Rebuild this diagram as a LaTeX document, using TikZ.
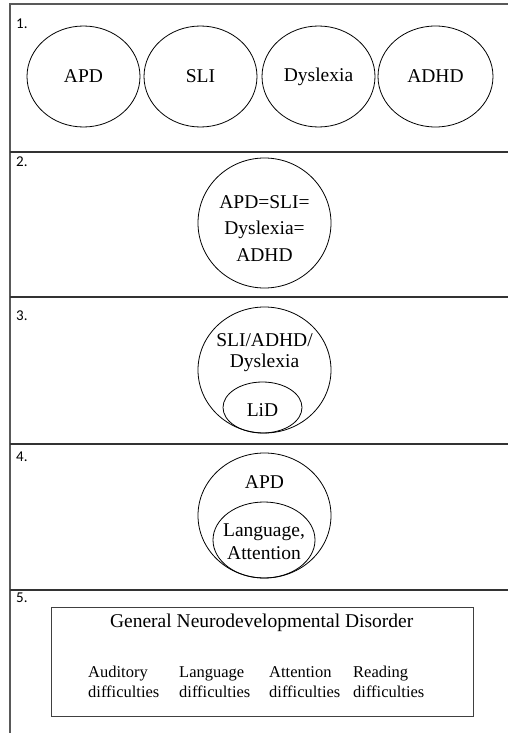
\documentclass[tikz,border=0pt]{standalone}
\usepackage{fontspec}
\setmainfont{Liberation Serif}
\newfontfamily\labelfont{Carlito}
\usetikzlibrary{shapes.geometric}
\begin{document}
\begin{tikzpicture}[x=1pt,y=-1pt,
  circ/.style={draw, ellipse, line width=0.8pt, inner sep=0pt},
  lbl/.style={font=\labelfont\fontsize{15}{17}\selectfont, anchor=west, inner sep=0pt},
  txt/.style={font=\fontsize{19.5}{22}\selectfont, inner sep=0pt, align=center},
  small/.style={font=\fontsize{16.5}{20}\selectfont, inner sep=0pt, align=left, anchor=west},
  border/.style={draw=black!65, line width=1.2pt},
  sep/.style={draw=black!80, line width=1.3pt}]
\useasboundingbox (0,0) rectangle (508,733);
% frame
\draw[border] (10,733) -- (10,4) -- (508,4);
\draw[sep] (10,152) -- (508,152);
\draw[sep] (10,297) -- (508,297);
\draw[sep] (10,444) -- (508,444);
\draw[sep] (10,590) -- (508,590);
% labels
\node[lbl] (l1) at (16,23.5) {1.};
\node[lbl] (l2) at (16,161.5) {2.};
\node[lbl] (l3) at (16,316) {3.};
\node[lbl] (l4) at (16,456.5) {4.};
\node[lbl] (l5) at (16,597.5) {5.};
% section 1
\node[circ, txt, minimum width=113, minimum height=101] (apd) at (83.5,76.5) {APD};
\node[circ, txt, minimum width=113, minimum height=101] (sli) at (200.5,76.5) {SLI};
\node[circ, txt, minimum width=113, minimum height=101] (dys) at (318.5,76.5) {Dyslexia};
\node[circ, txt, minimum width=115, minimum height=101] (adhd) at (435.5,76.5) {ADHD};
% section 2
\node[circ, minimum width=133, minimum height=130] (eq) at (264.5,223) {};
\node[txt, font=\fontsize{19.5}{26.5}\selectfont] (eqt) at (264.5,228.5) {APD=SLI=\\Dyslexia=\\ADHD};
% section 3
\node[circ, minimum width=133, minimum height=126] (s3o) at (264.5,370) {};
\node[circ, minimum width=79, minimum height=51] (lid) at (262.5,407.5) {};
\node[txt, font=\fontsize{19.5}{21.7}\selectfont] (s3t) at (264.5,352.5) {SLI/ADHD/\\Dyslexia};
\node[txt] (lidt) at (262.5,410) {LiD};
% section 4
\node[circ, minimum width=133, minimum height=125] (s4o) at (264.5,515.5) {};
\node[circ, minimum width=102, minimum height=76] (lang) at (264,540) {};
\node[txt] (apd4) at (264.5,482) {APD};
\node[txt, font=\fontsize{19.5}{23}\selectfont] (langt) at (264,542) {Language,\\Attention};
% section 5
\node[draw=black!75, line width=0.9pt, minimum width=421.3, minimum height=109, inner sep=0pt] (gnd) at (262.35,661.5) {};
\node[txt] (gndt) at (261.7,623) {General Neurodevelopmental Disorder};
\node[small] (aud) at (88,682) {Auditory\\difficulties};
\node[small] (lng) at (179,682) {Language\\difficulties};
\node[small] (att) at (269,682) {Attention\\difficulties};
\node[small] (rea) at (353,682) {Reading\\difficulties};
\end{tikzpicture}
\end{document}
